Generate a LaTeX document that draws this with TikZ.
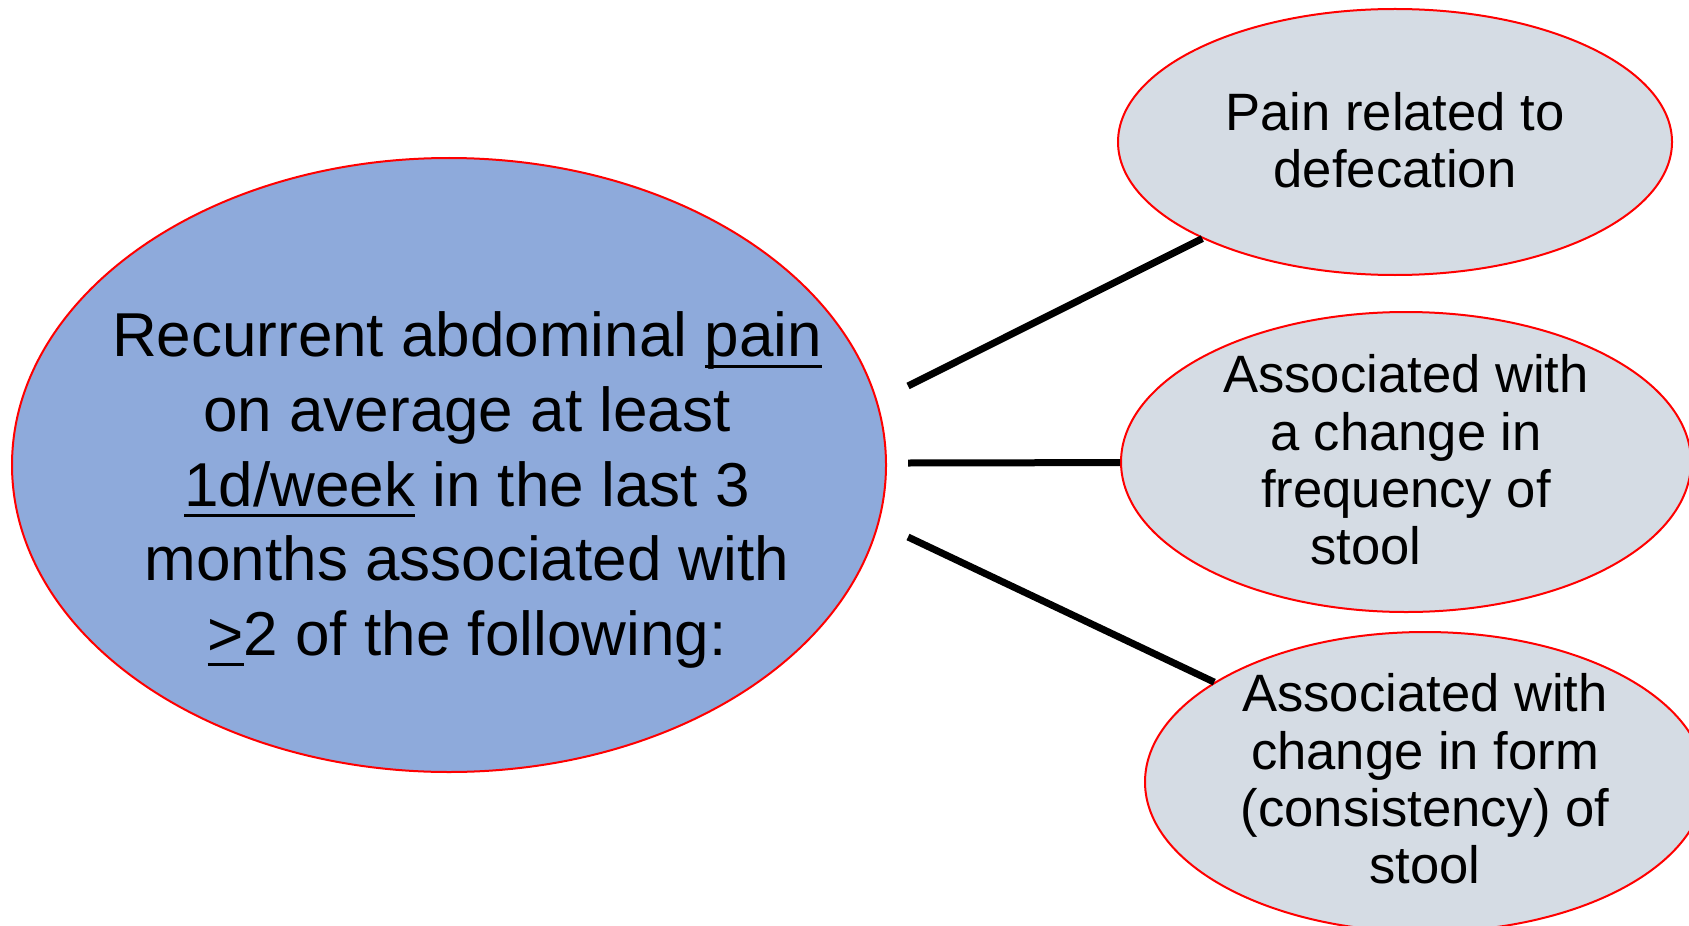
\documentclass[tikz,border=0pt]{standalone}
\usepackage{fontspec}
\setmainfont{Liberation Sans}
\usetikzlibrary{shapes.geometric}

\definecolor{mainblue}{RGB}{142,170,219}
\definecolor{critgrey}{RGB}{213,220,228}

\newsavebox{\undlbox}
\newcommand{\undl}[1]{\sbox{\undlbox}{#1}\rlap{\rule[-0.18em]{\wd\undlbox}{0.05em}}\usebox{\undlbox}}

\begin{document}
\begin{tikzpicture}[
    x=0.5pt,
    y=-0.5pt,
    mainbubble/.style={
        ellipse,
        draw=red,
        line width=1pt,
        fill=mainblue,
        inner sep=0pt,
        minimum width=437pt,
        minimum height=307pt
    },
    critbubble/.style={
        ellipse,
        draw=red,
        line width=1pt,
        fill=critgrey,
        inner sep=0pt
    },
    maintext/.style={
        align=center,
        inner sep=0pt,
        font=\fontsize{31pt}{37.3pt}\selectfont
    },
    crittext/.style={
        align=center,
        inner sep=0pt,
        font=\fontsize{26.3pt}{28.7pt}\selectfont
    },
    link/.style={
        draw=black,
        line width=3.5pt
    }
]

\useasboundingbox (0,0) rectangle (1689,925);

% =====================================================
% Main criterion
% =====================================================

\node[mainbubble] (pain) at (449,465) {};
\node[maintext] (painT) at (467,490)
    {Recurrent abdominal \undl{pain}\\
     on average at least\\
     \undl{1d/week} in the last 3\\
     months associated with\\
     \undl{>}2 of the following:};

% =====================================================
% Associated criteria
% =====================================================

\node[critbubble, minimum width=277pt, minimum height=133pt] (defec) at (1395,142) {};
\node[crittext] (defecT) at ([yshift=1pt]defec.center) {Pain related to\\ defecation};

\node[critbubble, minimum width=285pt, minimum height=150pt] (freq) at (1406,462) {};
\node[crittext] (freqT) at ([yshift=1pt]freq.center)
    {Associated with\\ a change in\\ frequency of\\ stool\hspace*{40pt}};

\node[critbubble, minimum width=280pt, minimum height=150pt] (form) at (1425,782) {};
\node[crittext] (formT) at ([yshift=1.5pt]form.center)
    {Associated with\\ change in form\\ (consistency) of\\ stool};

% =====================================================
% Links
% =====================================================

\coordinate (out1) at (908,386);
\coordinate (out2) at (908,463);
\coordinate (out3) at (908,537);

\draw[link] (out1) -- (defec);
\draw[link] (out2) -- (freq);
\draw[link] (out3) -- (form);

\end{tikzpicture}
\end{document}
